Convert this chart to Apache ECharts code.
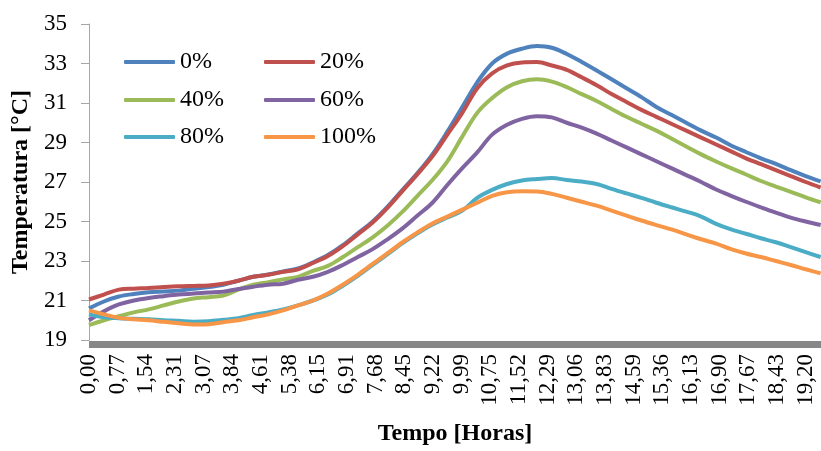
<!DOCTYPE html>
<html>
<head>
<meta charset="utf-8">
<script src="https://cdn.jsdelivr.net/npm/echarts@6/dist/echarts.min.js"></script>
<style>
html,body{margin:0;padding:0;background:#fff;}
#c{width:821px;height:451px;}
</style>
</head>
<body>
<div id="c"></div>
<script>
// Time (hours) of each sampled point
const hours = [0,0.4,0.8,1.2,1.6,2.0,2.4,2.8,3.2,3.6,4.0,4.4,4.8,5.2,5.6,6.0,6.4,6.8,7.2,7.6,8.0,8.4,8.8,9.2,9.6,10.0,10.4,10.8,11.2,11.6,12.0,12.4,12.8,13.2,13.6,14.0,14.4,14.8,15.2,15.6,16.0,16.4,16.8,17.2,17.6,18.0,18.4,18.8,19.2,19.6];

const seriesNames = ['0%','20%','40%','60%','80%','100%'];

const s0 = [20.6,20.95,21.2,21.33,21.42,21.46,21.5,21.6,21.68,21.8,22.0,22.2,22.32,22.47,22.62,22.93,23.3,23.8,24.4,25.0,25.75,26.6,27.45,28.4,29.55,30.8,32.05,33.0,33.5,33.75,33.88,33.8,33.48,33.08,32.65,32.2,31.75,31.3,30.8,30.4,30.0,29.6,29.25,28.85,28.52,28.2,27.92,27.6,27.3,27.03];
const s20 = [21.05,21.3,21.55,21.6,21.63,21.68,21.72,21.74,21.76,21.85,22.0,22.2,22.3,22.45,22.58,22.9,23.25,23.75,24.35,24.95,25.7,26.55,27.4,28.3,29.4,30.5,31.75,32.5,32.9,33.05,33.07,32.9,32.68,32.3,31.9,31.45,31.05,30.65,30.3,29.95,29.6,29.25,28.9,28.55,28.2,27.9,27.6,27.3,27.0,26.72];
const s40 = [19.75,20.0,20.2,20.4,20.55,20.75,20.95,21.1,21.17,21.25,21.55,21.8,21.93,22.07,22.2,22.5,22.75,23.2,23.7,24.2,24.8,25.5,26.3,27.1,28.05,29.3,30.5,31.25,31.8,32.1,32.2,32.08,31.8,31.45,31.1,30.7,30.3,29.95,29.6,29.2,28.8,28.4,28.04,27.7,27.38,27.05,26.77,26.5,26.22,25.97];
const s60 = [20.0,20.45,20.8,21.0,21.13,21.22,21.3,21.35,21.4,21.45,21.58,21.7,21.8,21.85,22.05,22.2,22.45,22.8,23.2,23.6,24.1,24.65,25.3,25.95,26.85,27.7,28.5,29.4,29.9,30.2,30.33,30.27,30.0,29.75,29.45,29.1,28.75,28.4,28.05,27.7,27.35,27.0,26.62,26.3,26.0,25.72,25.45,25.2,25.0,24.82];
const s80 = [20.3,20.15,20.1,20.07,20.05,20.0,19.97,19.93,19.95,20.02,20.1,20.27,20.4,20.55,20.75,21.0,21.3,21.75,22.25,22.8,23.35,23.9,24.4,24.85,25.2,25.55,26.2,26.6,26.9,27.08,27.15,27.2,27.1,27.02,26.9,26.65,26.42,26.2,25.95,25.72,25.5,25.25,24.88,24.6,24.38,24.15,23.95,23.7,23.45,23.2];
const s100 = [20.5,20.3,20.12,20.05,20.0,19.92,19.85,19.78,19.8,19.9,20.0,20.15,20.3,20.5,20.75,21.0,21.35,21.8,22.3,22.85,23.4,23.95,24.45,24.9,25.25,25.6,25.95,26.3,26.48,26.53,26.52,26.4,26.2,26.0,25.8,25.55,25.3,25.05,24.82,24.6,24.35,24.1,23.88,23.6,23.38,23.2,23.0,22.8,22.58,22.37];

const xTickLabels = ['0,00','0,77','1,54','2,31','3,07','3,84','4,61','5,38','6,15','6,91','7,68','8,45','9,22','9,99','10,75','11,52','12,29','13,06','13,83','14,59','15,36','16,13','16,90','17,67','18,43','19,20'];
const xTickStep = 0.768;
const yTicks = [19,21,23,25,27,29,31,33,35];

const colors = ['#4F81BD','#C0504D','#9BBB59','#8064A2','#4BACC6','#F79646'];
const allData = [s0,s20,s40,s60,s80,s100];
const FONT = 'Liberation Serif';

const series = allData.map((arr, i) => ({
  name: seriesNames[i],
  type: 'line',
  data: hours.map((h, j) => [h, arr[j]]),
  showSymbol: false,
  smooth: 0.35,
  lineStyle: { width: 4, color: colors[i] },
  itemStyle: { color: colors[i] },
  z: 2 + i
}));

const legendPos = [
  {left: 124, top: 50}, {left: 264, top: 50},
  {left: 124, top: 88}, {left: 264, top: 88},
  {left: 124, top: 125}, {left: 264, top: 125}
];
const legends = seriesNames.map((n, i) => ({
  data: [n],
  left: legendPos[i].left,
  top: legendPos[i].top,
  icon: 'roundRect',
  itemWidth: 51,
  itemHeight: 4,
  itemGap: 0,
  textStyle: { fontFamily: FONT, fontSize: 24, color: '#000', padding: [0,0,0,0] },
  padding: 0
}));

const chart = echarts.init(document.getElementById('c'), null, {renderer: 'canvas'});
chart.setOption({
  animation: false,
  backgroundColor: '#fff',
  color: colors,
  grid: { left: 89, right: 0, top: 24, bottom: 102.5, containLabel: false },
  legend: legends,
  xAxis: {
    type: 'value',
    min: 0,
    max: 19.61,
    interval: xTickStep,
    offset: 4,
    axisLine: { show: true, lineStyle: { color: '#878787', width: 7, cap: 'butt' } },
    axisTick: { show: false },
    splitLine: { show: false },
    axisLabel: {
      rotate: 90,
      margin: 10,
      showMaxLabel: false,
      fontFamily: FONT,
      fontSize: 23,
      color: '#000',
      formatter: (v) => {
        const k = Math.round(v / xTickStep);
        return xTickLabels[k] !== undefined ? xTickLabels[k] : '';
      }
    },
    name: 'Tempo [Horas]',
    nameLocation: 'middle',
    nameGap: 78,
    nameTextStyle: { fontFamily: FONT, fontSize: 24, fontWeight: 'bold', color: '#000' }
  },
  yAxis: {
    type: 'value',
    min: yTicks[0],
    max: yTicks[yTicks.length - 1],
    interval: 2,
    axisLine: { show: true, lineStyle: { color: '#a6a6a6', width: 1 } },
    axisTick: { show: true, inside: false, length: 8, lineStyle: { color: '#a6a6a6' } },
    splitLine: { show: false },
    axisLabel: { margin: 22, fontFamily: FONT, fontSize: 23, color: '#000' },
    name: 'Temperatura [°C]',
    nameLocation: 'middle',
    nameRotate: 90,
    nameGap: 52,
    nameTextStyle: { fontFamily: FONT, fontSize: 24, fontWeight: 'bold', color: '#000' }
  },
  series: series
});
</script>
</body>
</html>
